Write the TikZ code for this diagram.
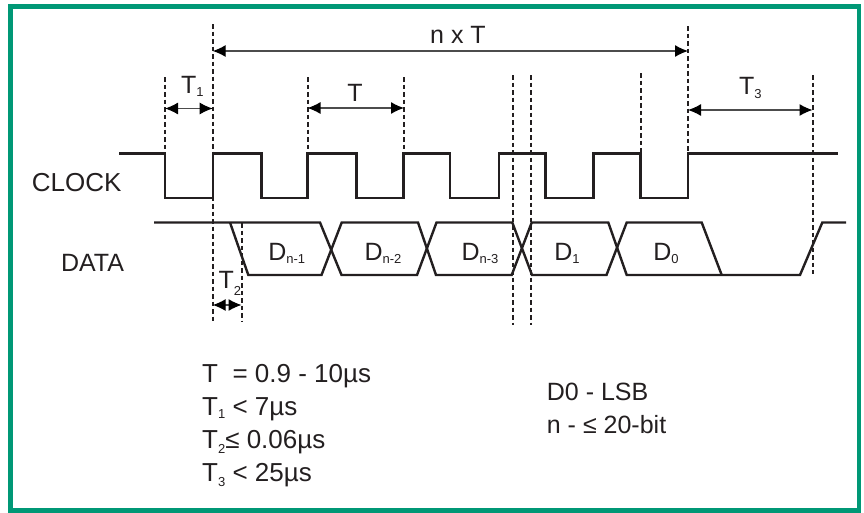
\documentclass[tikz,border=0pt]{standalone}
\usepackage{fontspec}
\setmainfont{Liberation Sans}
\usetikzlibrary{arrows.meta}
\definecolor{framegreen}{RGB}{0,152,118}
\definecolor{txt}{RGB}{35,31,32}
\newcommand\sbs[2][3.5pt]{\raisebox{-#1}{\fontsize{13}{13}\selectfont #2}}
\begin{document}
\begin{tikzpicture}[x=1pt,y=-1pt,
  sig/.style={line width=2.4pt, line join=miter, txt},
  dsh/.style={line width=2pt, dash pattern=on 4.5pt off 3pt, txt},
  dimarrow/.style={line width=1.1pt, black!70,
    {Latex[length=13pt,width=12pt,color=black]}-{Latex[length=13pt,width=12pt,color=black]}},
  lbl/.style={font=\fontsize{25}{30}\selectfont, inner sep=0pt, text=txt},
  note/.style={font=\fontsize{26}{30}\selectfont, inner sep=0pt, text=txt, anchor=base west},
  framebox/.style={draw=framegreen, line width=4.7pt}]
\useasboundingbox (0,0) rectangle (864,512);
\draw[framebox] (10.4,6.7) rectangle (859,510.3);

% dashed reference lines
\coordinate (l1t) at (165,77);    \coordinate (l1b) at (165,153);
\coordinate (l2t) at (212.7,24);  \coordinate (l2b) at (212.7,323);
\coordinate (l3t) at (307.5,77);  \coordinate (l3b) at (307.5,153);
\coordinate (l4t) at (404,77);    \coordinate (l4b) at (404,153);
\coordinate (l5t) at (512.7,75);  \coordinate (l5b) at (512.7,325);
\coordinate (l6t) at (530.5,75);  \coordinate (l6b) at (530.5,325);
\coordinate (l7t) at (640.7,73);  \coordinate (l7b) at (640.7,153);
\coordinate (l8t) at (688,26);    \coordinate (l8b) at (688,153);
\coordinate (l9t) at (812.5,75);  \coordinate (l9b) at (812.5,274);
\coordinate (l10t) at (241.5,223); \coordinate (l10b) at (241.5,322);
\foreach \i in {1,...,10} \draw[dsh] (l\i t) -- (l\i b);

% clock
\draw[sig] (119,153.3) -- (165,153.3) -- (165,197.7) -- (212.7,197.7) -- (212.7,153.3)
  -- (261.5,153.3) -- (261.5,197.7) -- (307.5,197.7) -- (307.5,153.3)
  -- (356.5,153.3) -- (356.5,197.7) -- (403.5,197.7) -- (403.5,153.3)
  -- (450,153.3) -- (450,197.7) -- (499,197.7) -- (499,153.3)
  -- (545.5,153.3) -- (545.5,197.7) -- (593.5,197.7) -- (593.5,153.3)
  -- (640.5,153.3) -- (640.5,197.7) -- (688,197.7) -- (688,153.3) -- (838.3,153.3);

% data
\def\yH{222.5}\def\yL{275}
\draw[sig] (154,\yH) -- (320,\yH) -- (341.5,\yL) -- (417,\yL) -- (436.5,\yH)
  -- (512.3,\yH) -- (532,\yL) -- (606.5,\yL) -- (626.7,\yH) -- (701.7,\yH) -- (721.7,\yL);
\draw[sig] (230,\yH) -- (248.3,\yL) -- (321.5,\yL) -- (341.7,\yH) -- (418,\yH) -- (436,\yL)
  -- (511.7,\yL) -- (531.7,\yH) -- (608.3,\yH) -- (626.7,\yL) -- (800,\yL) -- (822.3,\yH) -- (846,\yH);

% dimension arrows
\coordinate (nA) at (212.7,51);  \coordinate (nB) at (688,51);
\coordinate (t1A) at (165,108.5); \coordinate (t1B) at (212.7,108.5);
\coordinate (tA) at (307.5,108);  \coordinate (tB) at (404,108);
\coordinate (t3A) at (688,110);   \coordinate (t3B) at (812.5,110);
\coordinate (t2A) at (212.7,305); \coordinate (t2B) at (241.5,305);
\draw[dimarrow] (nA) -- (nB);
\draw[dimarrow] (t1A) -- (t1B);
\draw[dimarrow] (tA) -- (tB);
\draw[dimarrow] (t3A) -- (t3B);
\draw[dimarrow] (t2A) -- (t2B);

% labels
\node[lbl, anchor=base] (nT) at (458,43.3) {n x T};
\node[lbl, anchor=base west] (T1) at (181,93) {T\sbs{1}};
\node[lbl, anchor=base] (Tl) at (355,101.5) {T};
\node[lbl, anchor=base west] (T3) at (739,94) {T\sbs[4pt]{3}};
\node[lbl, anchor=base west] (T2) at (218.3,288.3) {T\sbs[7pt]{2}};
\node[lbl, font=\fontsize{26}{30}\selectfont, anchor=base west] (clk) at (31.7,191.7) {CLOCK};
\node[lbl, anchor=base] (dat) at (92.5,271.7) {DATA};

\node[lbl, anchor=base] (d1) at (286.7,260) {D\sbs{n-1}};
\node[lbl, anchor=base] (d2) at (383,260) {D\sbs{n-2}};
\node[lbl, anchor=base] (d3) at (480,260) {D\sbs{n-3}};
\node[lbl, anchor=base] (d4) at (567,260) {D\sbs{1}};
\node[lbl, anchor=base] (d5) at (666,260) {D\sbs{0}};

% notes
\node[note] (n1) at (202,382.7) {T\ \ = 0.9 - 10µs};
\node[note] (n2) at (202,415) {T\sbs{1} < 7µs};
\node[note] (n3) at (202,448) {T\sbs[5pt]{2}≤ 0.06µs};
\node[note] (n4) at (202,481.7) {T\sbs[5pt]{3} < 25µs};
\node[note, font=\fontsize{25}{30}\selectfont] (n5) at (546.7,400) {D0 - LSB};
\node[note, font=\fontsize{25}{30}\selectfont] (n6) at (546.7,433) {n - ≤ 20-bit};
\end{tikzpicture}
\end{document}
